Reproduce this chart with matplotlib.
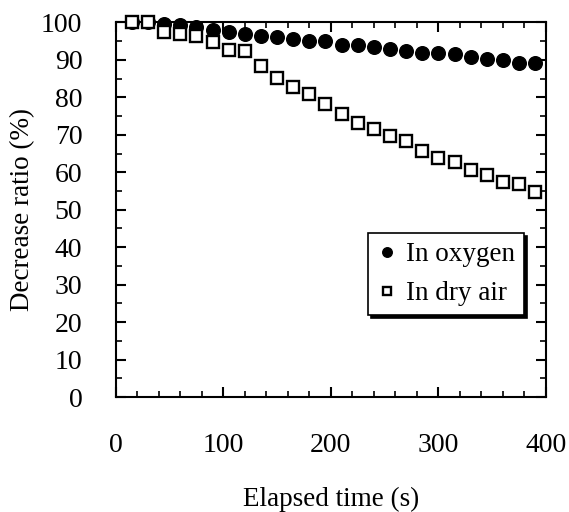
import matplotlib
matplotlib.use("Agg")
import matplotlib.pyplot as plt
from matplotlib.ticker import MultipleLocator

plt.rcParams['font.family'] = ['Liberation Serif', 'DejaVu Serif']

time_s = [15, 30, 45, 60, 75, 90, 105, 120, 135, 150, 165, 180, 195,
          210, 225, 240, 255, 270, 285, 300, 315, 330, 345, 360, 375, 390]
oxygen = [100, 100, 99.5, 99.2, 98.8, 98.0, 97.4, 97.0, 96.5, 96.1, 95.7, 95.0, 95.0,
          94.1, 93.9, 93.4, 92.8, 92.3, 91.8, 91.8, 91.5, 90.9, 90.3, 89.9, 89.1, 89.1]
dry_air = [100, 100, 97.4, 97.0, 96.3, 94.7, 92.7, 92.3, 88.3, 85.3, 82.7, 80.8, 78.3,
           75.6, 73.2, 71.6, 69.6, 68.3, 65.7, 63.7, 62.7, 60.7, 59.2, 57.4, 56.8, 54.7]
labels = ["In oxygen", "In dry air"]
xlabel = "Elapsed time (s)"
ylabel = "Decrease ratio (%)"

fig = plt.figure(figsize=(5.69, 5.12), dpi=100)
ax = fig.add_axes([0.2033, 0.2246, 0.7563, 0.7315])

ax.plot(time_s, oxygen, linestyle='none', marker='o', markersize=9.8,
        color='black', label=labels[0], clip_on=False, zorder=3)
ax.plot(time_s, dry_air, linestyle='none', marker='s', markersize=9.0,
        markerfacecolor='white', markeredgecolor='black', markeredgewidth=1.7,
        label=labels[1], clip_on=False, zorder=4)

ax.set_xlim(0, 400)
ax.set_ylim(0, 100)
ax.xaxis.set_major_locator(MultipleLocator(100))
ax.xaxis.set_minor_locator(MultipleLocator(20))
ax.yaxis.set_major_locator(MultipleLocator(10))
ax.yaxis.set_minor_locator(MultipleLocator(5))

for s in ax.spines.values():
    s.set_linewidth(1.5)

ax.tick_params(which='major', direction='in', length=7, width=1.5,
               labelsize=20, top=True, right=True)
ax.tick_params(which='minor', direction='in', length=4, width=1.2,
               top=True, right=True)
ax.tick_params(axis='x', which='major', pad=26)
ax.tick_params(axis='y', which='major', pad=24)

ax.set_xlabel(xlabel, fontsize=19.5, labelpad=21)
ax.set_ylabel(ylabel, fontsize=19.5, labelpad=4)

leg = ax.legend(loc='upper left', bbox_to_anchor=(0.586, 0.438), fontsize=19.5,
                markerscale=0.7, frameon=True, fancybox=False,
                shadow={'color': 'black', 'alpha': 1.0},
                borderpad=0.35, labelspacing=0.5, handlelength=0.7,
                handletextpad=0.35, borderaxespad=0)
leg.get_frame().set_edgecolor('black')
leg.get_frame().set_linewidth(1.2)

fig.savefig("out.png", dpi=100)
